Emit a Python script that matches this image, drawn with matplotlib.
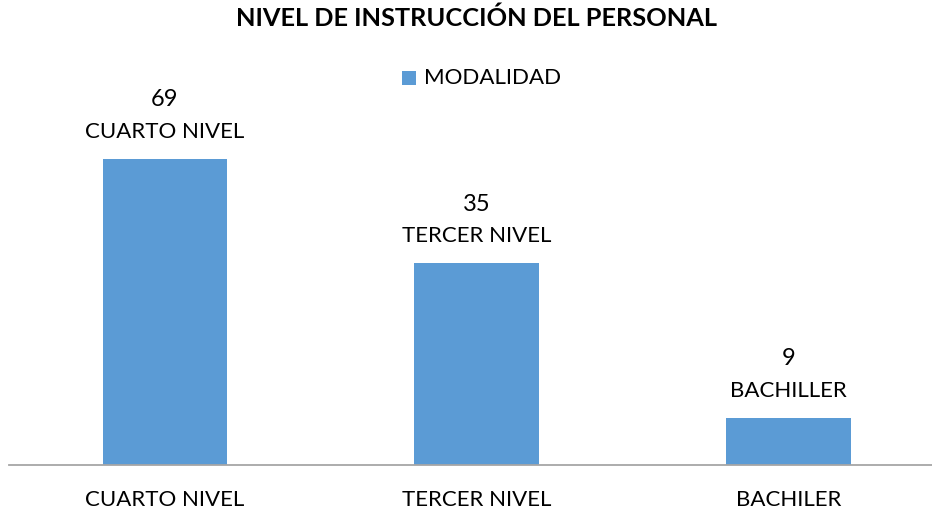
import matplotlib
matplotlib.use("Agg")
import matplotlib.pyplot as plt
from matplotlib.patches import Rectangle

categories = ["CUARTO NIVEL", "TERCER NIVEL", "BACHILER"]
label_categories = ["CUARTO NIVEL", "TERCER NIVEL", "BACHILLER"]
values = [69, 35, 9]
# bar heights as drawn in the reference (not proportional to labels)
bar_heights = [69, 45.5, 10.6]
series_name = "MODALIDAD"
title = "NIVEL DE INSTRUCCIÓN DEL PERSONAL"

plt.rcParams['font.family'] = ['Lato', 'DejaVu Sans']
W, H = 932, 513
fig = plt.figure(figsize=(W / 100, H / 100), dpi=100)

left_px, right_px, base_px, top_px = 9, 932, 465, 30
ax = fig.add_axes([left_px / W, (H - base_px) / H, (right_px - left_px) / W, (base_px - top_px) / H])
color = "#5B9BD5"
x = list(range(len(categories)))
bars = ax.bar(x, bar_heights, width=0.4, color=color, zorder=2)
ax.set_xlim(-0.5, 2.46)
ax.set_ylim(0, (base_px - top_px) / (306 / 69))

for s in ["top", "right", "left"]:
    ax.spines[s].set_visible(False)
ax.spines["bottom"].set_color("#A6A6A6")
ax.spines["bottom"].set_linewidth(1.3)
ax.set_yticks([])
ax.set_xticks(x)
ax.set_xticklabels(categories, fontsize=16)
ax.tick_params(axis="x", length=0, pad=18)

for xi, h, v, lab in zip(x, bar_heights, values, label_categories):
    ax.annotate(str(v), (xi, h), xytext=(0, 42.5), textcoords="offset points",
                ha="center", va="center", fontsize=17)
    ax.annotate(lab, (xi, h), xytext=(0, 19.4), textcoords="offset points",
                ha="center", va="center", fontsize=16)

fig.text(476 / W, 1 - 18 / H, title, ha="center", va="center", fontsize=18.3, fontweight="bold")

# legend
fig.patches.append(Rectangle((402 / W, 1 - 85 / H), 14 / W, 14 / H, transform=fig.transFigure,
                             facecolor=color, edgecolor="none"))
fig.text(424 / W, 1 - 78 / H, series_name, ha="left", va="center", fontsize=16)

fig.savefig("out.png", dpi=100)
